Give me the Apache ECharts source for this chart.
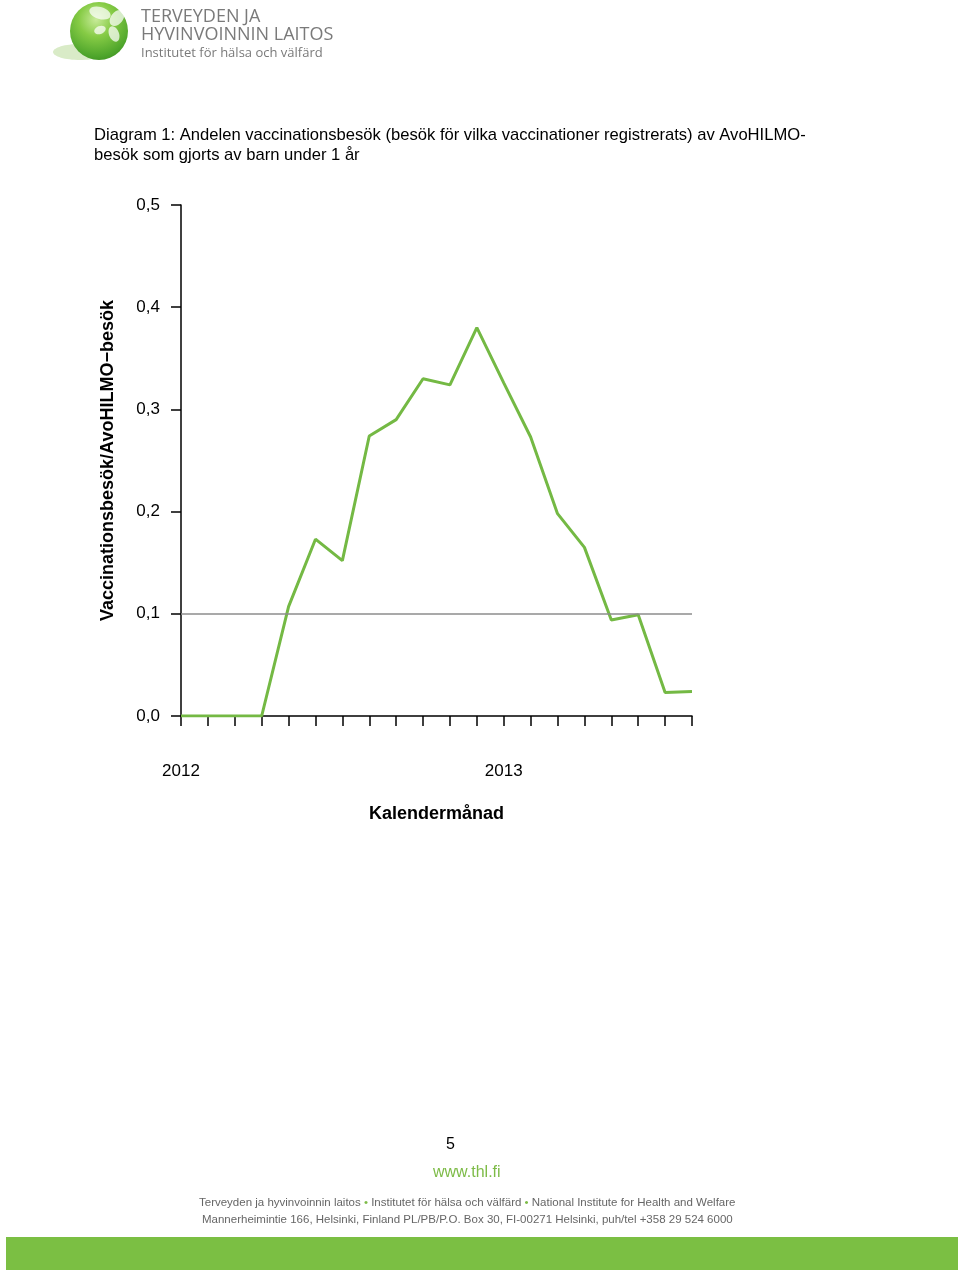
<!DOCTYPE html>
<html><head><meta charset="utf-8">
<script src="https://cdn.jsdelivr.net/npm/echarts@6/dist/echarts.min.js"></script>
<style>html,body{margin:0;padding:0;background:#fff}#c{width:960px;height:1272px}</style>
</head><body><div id="c"></div>
<script>
const months = ['2012-01','2012-02','2012-03','2012-04','2012-05','2012-06','2012-07','2012-08','2012-09','2012-10','2012-11','2012-12','2013-01','2013-02','2013-03','2013-04','2013-05','2013-06','2013-07','2013-08'];
const shareValues = [0, 0, 0, 0, 0.107, 0.173, 0.152, 0.274, 0.290, 0.330, 0.324, 0.380, 0.326, 0.273, 0.198, 0.165, 0.094, 0.099, 0.023, 0.024];
const referenceLevel = 0.1;
const yearLabels = {'2012-01':'2012','2013-01':'2013'};
const titleLines = ['Diagram 1: Andelen vaccinationsbesök (besök för vilka vaccinationer registrerats) av AvoHILMO-','besök som gjorts av barn under 1 år'];

const F = '"Liberation Sans", Arial, Helvetica, sans-serif';
const LF = '"Open Sans", "Noto Sans", sans-serif';
const chart = echarts.init(document.getElementById('c'), null, {renderer:'canvas'});
const petal = (cx, cy, rx, ry, rot) => ({type:'ellipse', shape:{cx:0, cy:0, rx:rx, ry:ry}, x:cx, y:cy, rotation:rot, z:3,
  style:{fill:'rgba(255,255,255,0.72)'}});
chart.setOption({
  animation:false,
  backgroundColor:'#fff',
  grid:{left:181, top:205, width:511, height:511, containLabel:false},
  xAxis:{
    type:'category', data:months, boundaryGap:false,
    name:'Kalendermånad', nameLocation:'middle', nameGap:89,
    nameTextStyle:{fontFamily:F, fontSize:18, fontWeight:'bold', color:'#000'},
    axisLine:{lineStyle:{color:'#000', width:1.5}},
    axisTick:{show:true, interval:0, length:10, lineStyle:{color:'#000', width:1.5}},
    axisLabel:{interval:0, margin:47, fontFamily:F, fontSize:17, color:'#000',
      formatter:v=>yearLabels[v]||''},
    splitLine:{show:false}
  },
  yAxis:{
    type:'value', min:0, max:0.5, interval:0.1,
    name:'Vaccinationsbesök/AvoHILMO−besök', nameLocation:'middle', nameGap:64, nameRotate:90,
    nameTextStyle:{fontFamily:F, fontSize:18, fontWeight:'bold', color:'#000'},
    axisLine:{show:true, lineStyle:{color:'#000', width:1.5}},
    axisTick:{show:true, length:10, lineStyle:{color:'#000', width:1.5}},
    axisLabel:{margin:21, fontFamily:F, fontSize:17, color:'#000',
      formatter:v=>v.toFixed(1).replace('.',',')},
    splitLine:{show:false}
  },
  series:[{
    type:'line', data:shareValues, symbol:'none',
    lineStyle:{color:'#74b944', width:3},
    markLine:{silent:true, symbol:['none','none'], label:{show:false},
      lineStyle:{color:'#8c8c8c', width:1.5, type:'solid'},
      data:[{yAxis:referenceLevel}]}
  }],
  graphic:[
    {type:'ellipse', shape:{cx:80, cy:52, rx:27, ry:8}, style:{fill:'rgba(170,210,130,0.45)'}, z:1},
    {type:'circle', shape:{cx:99, cy:31, r:29}, z:2,
      style:{fill:new echarts.graphic.RadialGradient(0.45,0.3,0.75,[
        {offset:0,color:'#c8eb9a'},{offset:0.4,color:'#86cb45'},{offset:0.85,color:'#4ea52b'},{offset:1,color:'#3f9222'}])}},
    petal(100, 13, 11, 6, -0.3),
    petal(117, 18, 9, 6, 0.9),
    petal(114, 34, 8, 5, -1.2),
    petal(100, 30, 6, 4, 0.4),
    {type:'text', left:141, top:8, z:3, style:{text:'TERVEYDEN JA', font:'18px '+LF, fill:'#7a7a7a'}},
    {type:'text', left:141, top:26, z:3, style:{text:'HYVINVOINNIN LAITOS', font:'18px '+LF, fill:'#7a7a7a'}},
    {type:'text', left:141, top:47, z:3, style:{text:'Institutet för hälsa och välfärd', font:'13px '+LF, fill:'#7a7a7a'}},
    {type:'text', left:94, top:127, style:{text:titleLines[0], font:'16.6px '+F, fill:'#000'}},
    {type:'text', left:94, top:147, style:{text:titleLines[1], font:'16.6px '+F, fill:'#000'}},
    {type:'text', left:446, top:1137, style:{text:'5', font:'16px '+F, fill:'#000'}},
    {type:'text', left:433, top:1165, style:{text:'www.thl.fi', font:'16px '+F, fill:'#7dbb47'}},
    {type:'text', left:199, top:1197, style:{
      text:'Terveyden ja hyvinvoinnin laitos {g|•} Institutet för hälsa och välfärd {g|•} National Institute for Health and Welfare',
      font:'11.5px '+F, fill:'#666', rich:{g:{fill:'#7dbb47', font:'11.5px '+F}}}},
    {type:'text', left:202, top:1214, style:{text:'Mannerheimintie 166, Helsinki, Finland PL/PB/P.O. Box 30, FI-00271 Helsinki, puh/tel +358 29 524 6000', font:'11.5px '+F, fill:'#666'}},
    {type:'rect', shape:{x:6, y:1237, width:952, height:33}, style:{fill:'#7bbf43'}}
  ]
});
</script></body></html>
